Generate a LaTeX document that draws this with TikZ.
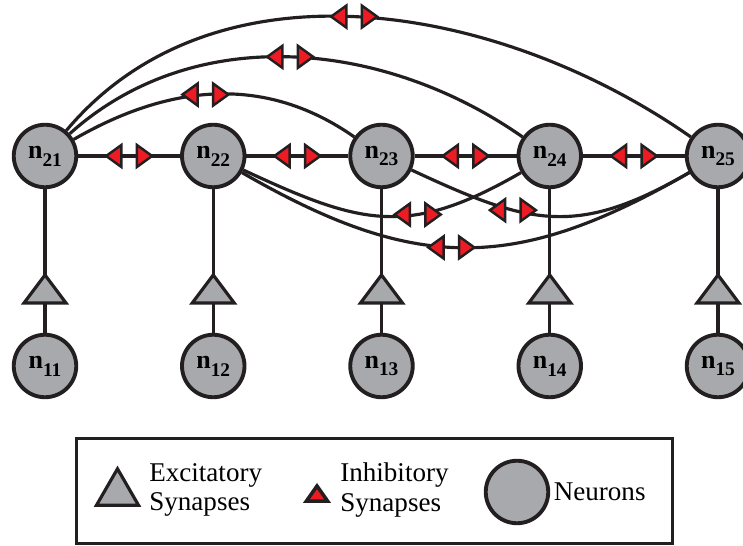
\documentclass[tikz,border=0pt]{standalone}
\usepackage{fontspec}
\setmainfont{Liberation Serif}
\usetikzlibrary{positioning, calc, decorations.markings}
\definecolor{neurongray}{HTML}{A7A9AC}
\definecolor{synred}{HTML}{ED1C24}
\definecolor{inkblack}{HTML}{231F20}
\newcommand{\nlbl}[1]{\textbf{n}\raisebox{-4.5pt}{\fontsize{11}{11}\selectfont\bfseries #1}}
\tikzset{
	neuron/.style={circle, draw=inkblack, line width=2.2pt, fill=neurongray,
			minimum size=1.25cm, inner sep=0pt, font=\fontsize{14.8}{15}\selectfont}
}
\tikzset{
	conn/.style={line width=1.8pt, draw=inkblack}
}
\tikzset{
	legendtext/.style={font=\fontsize{15.4}{17}\selectfont, align=left, inner sep=0pt, anchor=west}
}
\tikzset{
	synpair/.pic={
			\draw[line width=1.4pt, fill=synred, draw=inkblack, line join=miter]
			(-0.155,0.22) -- (-0.46,0) -- (-0.155,-0.22) -- cycle
			(0.155,0.22) -- (0.46,0) -- (0.155,-0.22) -- cycle;
		}
}
\tikzset{
	exsyn/.pic={
			\draw[line width=1.8pt, fill=neurongray, draw=inkblack]
			(-0.42,-0.28) -- (0,0.28) -- (0.42,-0.28) -- cycle;
			\coordinate (-top) at (0,0.28);
			\coordinate (-bot) at (0,-0.28);
		}
}
\tikzset{
	inhib/.style={
			postaction={decorate,decoration={markings,mark=at position #1 with {\pic{synpair};}}}
		}
}

\begin{document}
\begin{tikzpicture}

	\useasboundingbox (0,0) rectangle (14.86,10.92);

	\begin{scope}
		\node[neuron] (n21) at (0.9,7.8) {\nlbl{21}};
		\node[neuron] (n22) at (4.265,7.8) {\nlbl{22}};
		\node[neuron] (n23) at (7.63,7.8) {\nlbl{23}};
		\node[neuron] (n24) at (10.995,7.8) {\nlbl{24}};
		\node[neuron] (n25) at (14.36,7.8) {\nlbl{25}};

		\node[neuron] (n11) at (0.9,3.6) {\nlbl{11}};
		\node[neuron] (n12) at (4.265,3.6) {\nlbl{12}};
		\node[neuron] (n13) at (7.63,3.6) {\nlbl{13}};
		\node[neuron] (n14) at (10.995,3.6) {\nlbl{14}};
		\node[neuron] (n15) at (14.36,3.6) {\nlbl{15}};
	\end{scope}

	\begin{scope}
		\pic (e1) at (0.9,5.14) {exsyn};
		\pic (e2) at (4.265,5.14) {exsyn};
		\pic (e3) at (7.63,5.14) {exsyn};
		\pic (e4) at (10.995,5.14) {exsyn};
		\pic (e5) at (14.36,5.14) {exsyn};

		\draw[conn] (n21) -- (e1-top);
		\draw[conn] (n22) -- (e2-top);
		\draw[conn] (n23) -- (e3-top);
		\draw[conn] (n24) -- (e4-top);
		\draw[conn] (n25) -- (e5-top);

		\draw[conn] (e1-bot) -- (n11);
		\draw[conn] (e2-bot) -- (n12);
		\draw[conn] (e3-bot) -- (n13);
		\draw[conn] (e4-bot) -- (n14);
		\draw[conn] (e5-bot) -- (n15);
	\end{scope}

	\begin{scope}
		\draw[conn, inhib=0.5] (n21) -- (n22);
		\draw[conn, inhib=0.5] (n22) -- (n23);
		\draw[conn, inhib=0.5] (n23) -- (n24);
		\draw[conn, inhib=0.5] (n24) -- (n25);

		\draw[conn, inhib=0.47] (n21) to[out=50, in=145, looseness=0.95] (n25);
		\draw[conn, inhib=0.49] (n21) to[out=42, in=145, looseness=0.95] (n24);
		\draw[conn, inhib=0.47] (n21) to[out=30, in=145] (n23);

		\draw[conn, inhib=0.62] (n22) to[out=-25, in=-150, looseness=1.2] (n24);
		\draw[conn, inhib=0.37] (n23) to[out=-25, in=-150, looseness=1.2] (n25);
		\draw[conn, inhib=0.47] (n22) to[out=-30, in=-150, looseness=1.15] (n25);
	\end{scope}

	\begin{scope}
		\node[draw=inkblack, line width=1.7pt, minimum width=11.92cm, minimum height=2.1cm,
			inner sep=0pt] (legend) at (7.49,1.1) {};

		\pic[yscale=1.3] (lgex) at (2.35,1.18) {exsyn};
		\node[legendtext] (lgextxt) at (2.98,1.12) {Excitatory\\Synapses};

		\draw[line width=2pt, fill=synred, draw=inkblack, line join=miter]
		(6.125,0.895) -- (6.34,1.2) -- (6.555,0.895) -- cycle;
		\node[legendtext] (lgintxt) at (6.8,1.12) {Inhibitory\\Synapses};

		\node[neuron] (lgneuron) at (10.34,1.08) {};
		\node[legendtext] (lgnetxt) at (11.07,1.08) {Neurons};
	\end{scope}

\end{tikzpicture}
\end{document}
